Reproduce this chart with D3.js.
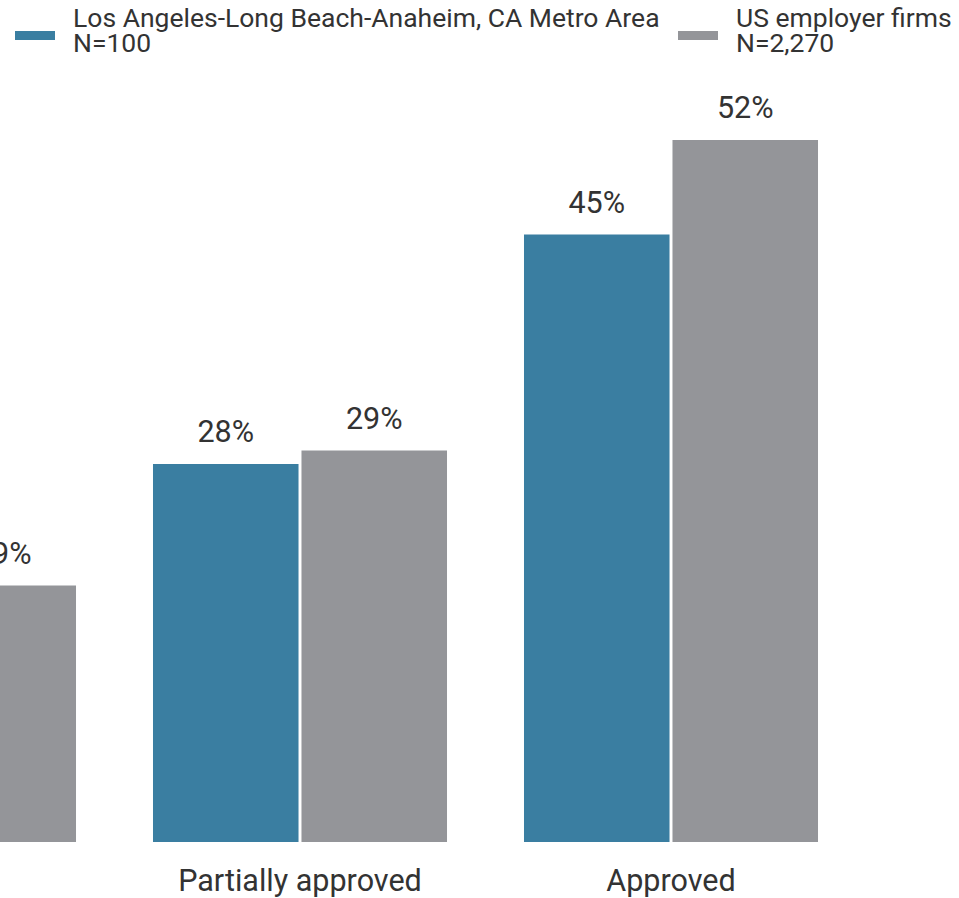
<!DOCTYPE html>
<html>
<head>
<meta charset="utf-8">
<script src="https://cdn.jsdelivr.net/npm/d3@7"></script>
<style>
  body { margin: 0; background: #fff; }
  svg { display: block; font-family: Roboto, "Noto Sans", sans-serif; }
</style>
</head>
<body>
<div id="chart"></div>
<script>
// Loan application outcome, share of applicants
const categories = ["Denied", "Partially approved", "Approved"];
const seriesNames = ["Los Angeles-Long Beach-Anaheim, CA Metro Area", "US employer firms"];
const seriesNotes = ["N=100", "N=2,270"];
const laValues = [27, 28, 45];
const usValues = [19, 29, 52];

const width = 959;
const height = 898;
const colors = ["#3a7ea1", "#949599"];

const svg = d3.select("#chart")
    .append("svg")
    .attr("width", width)
    .attr("height", height);

const rows = categories.map((c, i) => ({
    category: c,
    values: [laValues[i], usValues[i]]
}));

// group scale, the first group sits partly off the left edge
const x0 = d3.scaleBand()
    .domain(categories)
    .range([-256.5, 856.5])
    .paddingInner(0.2075)
    .paddingOuter(0.10375);

const x1 = d3.scaleBand()
    .domain([0, 1])
    .range([0, x0.bandwidth()])
    .paddingInner(0.02);

const y = d3.scaleLinear()
    .domain([0, 60])
    .range([842, 32]);

const groups = svg.selectAll(".group")
    .data(rows)
    .enter()
    .append("g")
    .attr("class", "group")
    .attr("transform", d => `translate(${x0(d.category)},0)`);

groups.selectAll("rect")
    .data(d => d.values.map((v, i) => ({ v, i })))
    .enter()
    .append("rect")
    .attr("x", d => x1(d.i))
    .attr("y", d => y(d.v))
    .attr("width", x1.bandwidth())
    .attr("height", d => y(0) - y(d.v))
    .attr("fill", d => colors[d.i]);

// value labels
groups.selectAll(".val")
    .data(d => d.values.map((v, i) => ({ v, i })))
    .enter()
    .append("text")
    .attr("class", "val")
    .attr("x", d => x1(d.i) + x1.bandwidth() / 2)
    .attr("y", d => y(d.v) - 22)
    .attr("text-anchor", "middle")
    .attr("font-size", "30.5px")
    .attr("fill", "#333")
    .text(d => `${d.v}%`);

// category labels
svg.selectAll(".cat")
    .data(categories)
    .enter()
    .append("text")
    .attr("class", "cat")
    .attr("x", d => x0(d) + x0.bandwidth() / 2)
    .attr("y", 891)
    .attr("text-anchor", "middle")
    .attr("font-size", "30.5px")
    .attr("fill", "#333")
    .text(d => d);

// legend
const legendX = [15, 678];
seriesNames.forEach((name, i) => {
    const lg = svg.append("g")
        .attr("transform", `translate(${legendX[i]},0)`);

    lg.append("rect")
        .attr("x", 0)
        .attr("y", 31)
        .attr("width", 40)
        .attr("height", 9)
        .attr("fill", colors[i]);

    lg.append("text")
        .attr("x", 58)
        .attr("y", 27)
        .attr("font-size", "26.5px")
        .attr("fill", "#333")
        .text(name);

    lg.append("text")
        .attr("x", 58)
        .attr("y", 52)
        .attr("font-size", "26.5px")
        .attr("fill", "#333")
        .text(seriesNotes[i]);
});
</script>
</body>
</html>
